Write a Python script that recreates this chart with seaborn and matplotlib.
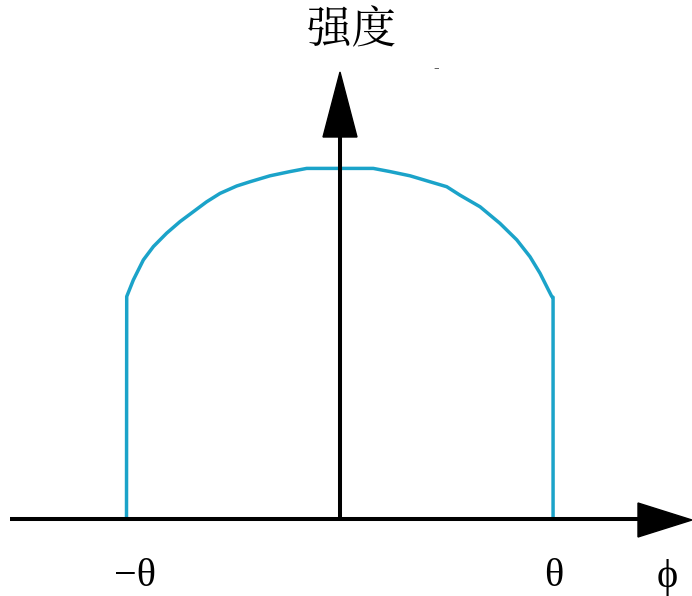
import numpy as np
import pandas as pd
import matplotlib
matplotlib.use("Agg")
import matplotlib.pyplot as plt
from matplotlib.patches import Polygon
import seaborn as sns

# Data: angle (in units of theta) and relative intensity
phi = [-1.0, -0.999, -0.968, -0.921, -0.874, -0.812, -0.749, -0.687, -0.625, -0.562,
       -0.484, -0.422, -0.328, -0.234, -0.156, 0.0, 0.156, 0.234, 0.328, 0.422,
       0.500, 0.562, 0.656, 0.749, 0.828, 0.890, 0.937, 0.976, 0.992, 0.998, 0.998]
intensity = [0.0, 0.632, 0.679, 0.736, 0.774, 0.812, 0.845, 0.873, 0.901, 0.925,
             0.946, 0.958, 0.975, 0.987, 0.996, 0.996, 0.996, 0.987, 0.975, 0.958,
             0.944, 0.920, 0.887, 0.840, 0.793, 0.745, 0.698, 0.651, 0.632, 0.630, 0.0]
tick_labels = ["\u2212\u03b8", "\u03b8"]
tick_pos = [-0.96, 1.0]
y_label = "强度"
x_label = "\u03d5"

sns.set_theme(style="white")
plt.rcParams['font.family'] = ['Noto Sans CJK SC', 'DejaVu Sans']

fig = plt.figure(figsize=(6.92, 5.96), dpi=100)
ax = fig.add_axes([0, 0, 1, 1])
sx = 213.5
sy = 352.0
ax.set_xlim(-340 / sx, 352 / sx)
ax.set_ylim(-77 / sy, 519 / sy)
ax.axis("off")

df = pd.DataFrame({"phi": phi, "intensity": intensity})
sns.lineplot(data=df, x="phi", y="intensity", sort=False, estimator=None,
             color="#1ba3c9", linewidth=2.5, ax=ax, zorder=2)
for ln in ax.get_lines():
    ln.set_solid_joinstyle("round")

# axes with arrows (pixel-derived positions converted to data units)
def px(x): return (x - 340) / sx
def py(y): return (519 - y) / sy

ax.plot([px(10), px(645)], [0, 0], color="black", lw=2.9, solid_capstyle="butt", zorder=3)
ax.add_patch(Polygon([[px(638), py(503)], [px(692), py(520)], [px(638), py(537)]],
                     closed=True, color="black", zorder=3))
ax.plot([0, 0], [0, py(130)], color="black", lw=2.9, solid_capstyle="butt", zorder=3)
ax.add_patch(Polygon([[px(323), py(137)], [px(340), py(72)], [px(357), py(137)]],
                     closed=True, color="black", zorder=3))

for p, lab in zip(tick_pos, tick_labels):
    ax.text(p, py(577), lab,
            family=['Liberation Serif', 'DejaVu Serif'], fontsize=29,
            ha="center", va="center", color="black")
ax.text(px(667), py(577), x_label, family=['Liberation Serif', 'DejaVu Serif'],
        fontsize=29, ha="center", va="center", color="black")
ax.text(px(351), py(31), y_label, family=['Noto Serif CJK SC', 'Noto Sans CJK SC', 'DejaVu Sans'],
        fontsize=32, ha="center", va="center", color="black")
ax.text(px(436), py(68), "-", family=['Liberation Serif'], fontsize=12,
        ha="center", va="center", color="#333333")

fig.savefig("out.png", dpi=100)
